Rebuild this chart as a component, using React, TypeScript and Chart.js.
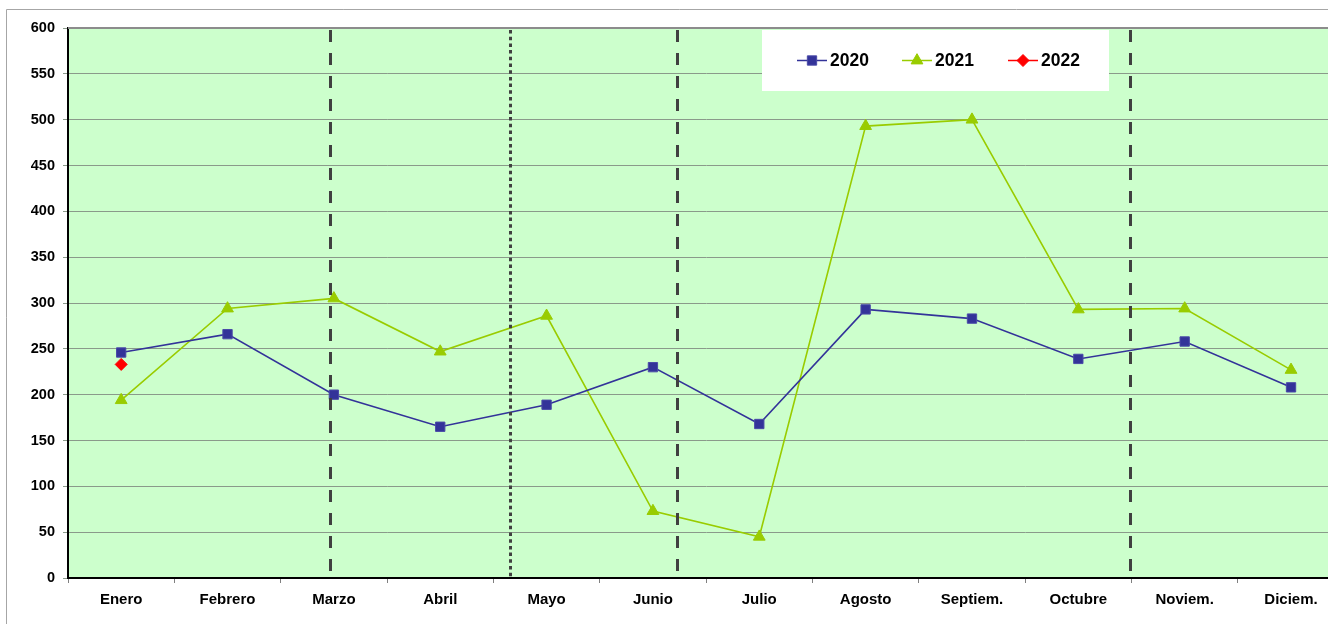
import { useEffect, useRef } from 'react';
import { Chart, registerables } from 'chart.js';
import { drawPoint } from 'chart.js/helpers';

Chart.register(...registerables);

const months = ['Enero', 'Febrero', 'Marzo', 'Abril', 'Mayo', 'Junio', 'Julio', 'Agosto', 'Septiem.', 'Octubre', 'Noviem.', 'Diciem.'];
const values2020 = [246, 266, 200, 165, 189, 230, 168, 293, 283, 239, 258, 208];
const values2021 = [194, 294, 305, 247, 286, 73, 45, 493, 500, 293, 294, 227];
const values2022 = [233, null, null, null, null, null, null, null, null, null, null, null];
const seriesLabels = ['2020', '2021', '2022'];
// vertical marker lines, in category-index units
const dashedMarks = [1.963, 5.228, 9.484];
const dottedMarks = [3.658];
const yTicks = { min: 0, max: 600, step: 50 };

const FONT = "'Liberation Sans', Arial, sans-serif";

const decorPlugin = {
  id: 'decor',
  beforeDraw(chart: any) {
    const { ctx, chartArea: a } = chart;
    ctx.save();
    ctx.fillStyle = '#ffffff';
    ctx.fillRect(0, 0, chart.width, chart.height);
    // outer frame
    ctx.strokeStyle = '#a6a6a6';
    ctx.lineWidth = 1;
    ctx.beginPath();
    ctx.moveTo(6.5, chart.height + 2);
    ctx.lineTo(6.5, 9.5);
    ctx.lineTo(chart.width + 2, 9.5);
    ctx.stroke();
    // plot background
    ctx.fillStyle = '#CCFFCC';
    ctx.fillRect(a.left, a.top, a.right - a.left, a.bottom - a.top);
    ctx.restore();
  },
  afterDatasetsDraw(chart: any) {
    const { ctx, chartArea: a, scales } = chart;
    const x = scales.x;
    ctx.save();
    // top border
    ctx.strokeStyle = '#8c8c8c';
    ctx.lineWidth = 2;
    ctx.beginPath();
    ctx.moveTo(a.left, a.top);
    ctx.lineTo(a.right, a.top);
    ctx.stroke();
    // vertical marks
    ctx.strokeStyle = '#404040';
    ctx.lineWidth = 3;
    ctx.setLineDash([12, 11]);
    dashedMarks.forEach((v) => {
      const px = Math.round(x.getPixelForValue(v)) + 0.5;
      ctx.beginPath();
      ctx.moveTo(px, a.top + 2);
      ctx.lineTo(px, a.bottom);
      ctx.stroke();
    });
    ctx.setLineDash([3.5, 3.2]);
    dottedMarks.forEach((v) => {
      const px = Math.round(x.getPixelForValue(v)) + 0.5;
      ctx.beginPath();
      ctx.moveTo(px, a.top + 2);
      ctx.lineTo(px, a.bottom);
      ctx.stroke();
    });
    ctx.setLineDash([]);

    // legend
    const boxX = 762, boxY = 30, boxW = 347, boxH = 61;
    ctx.fillStyle = '#ffffff';
    ctx.fillRect(boxX, boxY, boxW, boxH);
    const cy = 60.5;
    const starts = [797, 902, 1008];
    chart.data.datasets.forEach((ds: any, i: number) => {
      const sx = starts[i];
      ctx.strokeStyle = ds.borderColor;
      ctx.lineWidth = 1.5;
      ctx.beginPath();
      ctx.moveTo(sx, cy);
      ctx.lineTo(sx + 30, cy);
      ctx.stroke();
      ctx.fillStyle = ds.pointBackgroundColor;
      ctx.strokeStyle = ds.pointBorderColor;
      ctx.lineWidth = 1;
      drawPoint(ctx, { pointStyle: ds.pointStyle, radius: ds.pointRadius, borderWidth: 1, rotation: 0 }, sx + 15, cy);
      ctx.fillStyle = '#000000';
      ctx.font = `bold 17.5px ${FONT}`;
      ctx.textAlign = 'left';
      ctx.textBaseline = 'middle';
      ctx.fillText(ds.label, sx + 33, cy + 1);
    });
    ctx.restore();
  },
};

export default function App() {
  const ref = useRef<HTMLCanvasElement | null>(null);
  useEffect(() => {
    if (!ref.current) return;
    const chart = new Chart(ref.current, {
      type: 'line',
      data: {
        labels: months,
        datasets: [
          {
            label: seriesLabels[0],
            data: values2020,
            borderColor: '#333399',
            backgroundColor: '#333399',
            pointBackgroundColor: '#333399',
            pointBorderColor: '#4a4aa8',
            pointStyle: 'rect',
            pointRadius: 6.6,
            pointBorderWidth: 1,
            borderWidth: 1.6,
            tension: 0,
          },
          {
            label: seriesLabels[1],
            data: values2021,
            borderColor: '#99CC00',
            backgroundColor: '#99CC00',
            pointBackgroundColor: '#99CC00',
            pointBorderColor: '#99CC00',
            pointStyle: 'triangle',
            pointRadius: 6.8,
            pointBorderWidth: 1,
            borderWidth: 1.6,
            tension: 0,
          },
          {
            label: seriesLabels[2],
            data: values2022,
            borderColor: '#FF0000',
            backgroundColor: '#FF0000',
            pointBackgroundColor: '#FF0000',
            pointBorderColor: '#FF0000',
            pointStyle: 'rectRot',
            pointRadius: 6,
            pointBorderWidth: 1,
            borderWidth: 1.6,
            tension: 0,
          },
        ],
      },
      options: {
        responsive: false,
        animation: false,
        devicePixelRatio: 1,
        layout: { padding: { top: 28, left: 0, right: 0, bottom: 0 } },
        plugins: {
          legend: { display: false },
          tooltip: { enabled: false },
        },
        scales: {
          x: {
            type: 'category',
            offset: true,
            grid: { offset: true, drawOnChartArea: false, drawTicks: true, tickLength: 5, color: '#808080' },
            border: { color: '#000000', width: 2 },
            ticks: {
              color: '#000000',
              font: { family: FONT, size: 15, weight: 'bold' },
              padding: 8,
              maxRotation: 0,
              autoSkip: false,
            },
            afterFit(scale: any) {
              scale.height = 46;
            },
          },
          y: {
            min: yTicks.min,
            max: yTicks.max,
            grid: { color: '#8a9a8a', lineWidth: 1, tickLength: 5 },
            border: { color: '#000000', width: 2 },
            ticks: {
              stepSize: yTicks.step,
              color: '#000000',
              font: { family: FONT, size: 14.5, weight: 'bold' },
              padding: 8,
            },
            afterFit(scale: any) {
              scale.width = 68;
            },
          },
        },
      },
      plugins: [decorPlugin],
    });
    return () => chart.destroy();
  }, []);

  return (
    <div style={{ position: 'fixed', left: 0, top: 0, width: 1328, height: 624, overflow: 'hidden', background: '#fff' }}>
      <canvas ref={ref} width={1352} height={624} style={{ display: 'block', width: 1352, height: 624 }} />
    </div>
  );
}
